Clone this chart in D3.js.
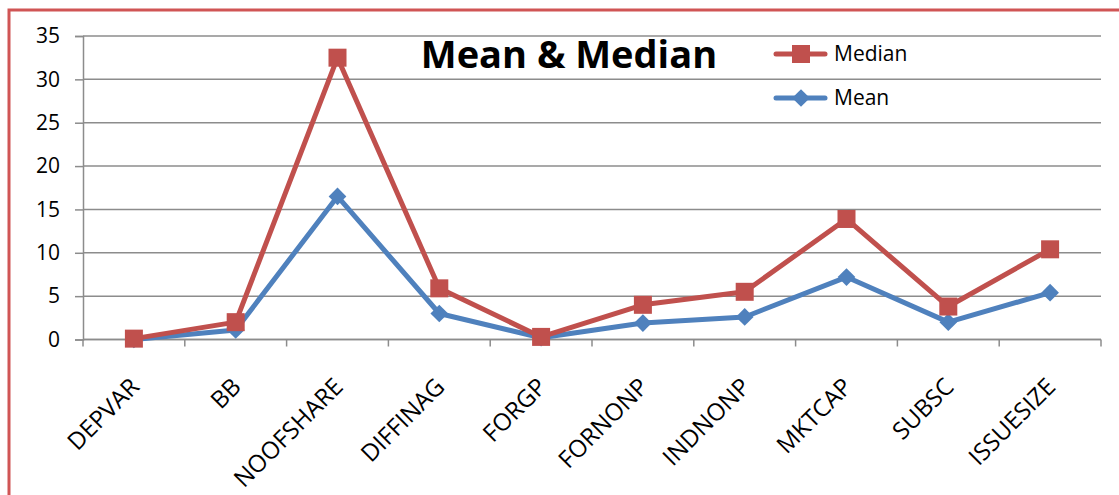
<!DOCTYPE html>
<html>
<head>
<meta charset="utf-8">
<script src="https://cdn.jsdelivr.net/npm/d3@7"></script>
<style>
  body { margin: 0; background: #fff; }
  svg { display: block; }
  text { font-family: "Open Sans", "Noto Sans", sans-serif; }
</style>
</head>
<body>
<script>
// data
var categories = ["DEPVAR", "BB", "NOOFSHARE", "DIFFINAG", "FORGP", "FORNONP", "INDNONP", "MKTCAP", "SUBSC", "ISSUESIZE"];
var medianValues = [0.1, 2.0, 32.5, 5.9, 0.3, 4.0, 5.5, 13.9, 3.8, 10.4];
var meanValues = [0.0, 1.1, 16.5, 3.0, 0.2, 1.9, 2.6, 7.2, 2.0, 5.4];
var yTicks = [0, 5, 10, 15, 20, 25, 30, 35];

var width = 1119, height = 495;
var red = "#C0504D", blue = "#4F81BD", grid = "#8C8C8C";

var svg = d3.select("body").append("svg")
    .attr("width", width)
    .attr("height", height);

// frame (only top and left edges are visible)
svg.append("path")
    .attr("d", "M9," + height + " V10 H" + width)
    .attr("fill", "none")
    .attr("stroke", "#D05555")
    .attr("stroke-width", 3);

var x = d3.scaleBand()
    .domain(categories)
    .range([83, 1101]);

var y = d3.scaleLinear()
    .domain([0, 35])
    .range([339.5, 36]);

// gridlines
svg.append("g")
    .selectAll("line")
    .data(yTicks)
    .enter().append("line")
    .attr("x1", 83)
    .attr("x2", 1101)
    .attr("y1", function (d) { return y(d); })
    .attr("y2", function (d) { return y(d); })
    .attr("stroke", grid)
    .attr("stroke-width", 1.5);

// y axis
var yAxis = svg.append("g")
    .attr("transform", "translate(83,0)")
    .call(d3.axisLeft(y).tickValues(yTicks).tickSize(8).tickPadding(13));
yAxis.select(".domain").attr("stroke", grid).attr("stroke-width", 1.5);
yAxis.selectAll(".tick line").attr("stroke", grid).attr("stroke-width", 1.5);
yAxis.selectAll("text")
    .attr("font-size", 21)
    .attr("font-family", "Open Sans")
    .attr("fill", "#000")
    .attr("dx", -2);

// x axis, ticks at the category boundaries
var xAxisG = svg.append("g")
    .attr("transform", "translate(0," + y(0) + ")");
xAxisG.append("line")
    .attr("x1", 83).attr("x2", 1101)
    .attr("stroke", grid).attr("stroke-width", 1.5);
xAxisG.selectAll(".bt")
    .data(categories.concat(["end"]))
    .enter().append("line")
    .attr("class", "bt")
    .attr("x1", function (d, i) { return 83 + i * x.bandwidth(); })
    .attr("x2", function (d, i) { return 83 + i * x.bandwidth(); })
    .attr("y1", 0)
    .attr("y2", 7)
    .attr("stroke", grid)
    .attr("stroke-width", 1.5);

xAxisG.selectAll(".lbl")
    .data(categories)
    .enter().append("text")
    .attr("class", "lbl")
    .attr("transform", function (d) {
        return "translate(" + (x(d) + x.bandwidth() / 2 - 5) + ",37) rotate(-45)";
    })
    .attr("text-anchor", "end")
    .attr("dy", "0.7em")
    .attr("font-size", 24)
    .attr("fill", "#000")
    .text(function (d) { return d; });

// lines
var line = d3.line()
    .x(function (d, i) { return x(categories[i]) + x.bandwidth() / 2; })
    .y(function (d) { return y(d); });

svg.append("path")
    .datum(meanValues)
    .attr("d", line)
    .attr("fill", "none")
    .attr("stroke", blue)
    .attr("stroke-width", 5)
    .attr("stroke-linejoin", "round");

svg.append("g")
    .selectAll("path")
    .data(meanValues)
    .enter().append("path")
    .attr("d", d3.symbol().type(d3.symbolDiamond2).size(200))
    .attr("transform", function (d, i) {
        return "translate(" + (x(categories[i]) + x.bandwidth() / 2) + "," + y(d) + ")";
    })
    .attr("fill", blue);

svg.append("path")
    .datum(medianValues)
    .attr("d", line)
    .attr("fill", "none")
    .attr("stroke", red)
    .attr("stroke-width", 5)
    .attr("stroke-linejoin", "round");

svg.append("g")
    .selectAll("rect")
    .data(medianValues)
    .enter().append("rect")
    .attr("x", function (d, i) { return x(categories[i]) + x.bandwidth() / 2 - 9; })
    .attr("y", function (d) { return y(d) - 9; })
    .attr("width", 18)
    .attr("height", 18)
    .attr("fill", red);

// title
svg.append("text")
    .attr("x", 569)
    .attr("y", 68)
    .attr("text-anchor", "middle")
    .attr("font-size", 38)
    .attr("font-weight", "bold")
    .attr("fill", "#000")
    .text("Mean & Median");

// legend
var legend = [
    { name: "Median", color: red, y: 54, shape: "square" },
    { name: "Mean", color: blue, y: 98, shape: "diamond" }
];
legend.forEach(function (l) {
    svg.append("line")
        .attr("x1", 776).attr("x2", 825)
        .attr("y1", l.y).attr("y2", l.y)
        .attr("stroke", l.color)
        .attr("stroke-width", 5)
        .attr("stroke-linecap", "round");
    if (l.shape == "square") {
        svg.append("rect")
            .attr("x", 792).attr("y", l.y - 9)
            .attr("width", 18).attr("height", 18)
            .attr("fill", l.color);
    } else {
        svg.append("path")
            .attr("d", d3.symbol().type(d3.symbolDiamond2).size(200))
            .attr("transform", "translate(801," + l.y + ")")
            .attr("fill", l.color);
    }
    svg.append("text")
        .attr("x", 834)
        .attr("y", l.y + 7)
        .attr("font-size", 21)
        .attr("fill", "#000")
        .text(l.name);
});
</script>
</body>
</html>
